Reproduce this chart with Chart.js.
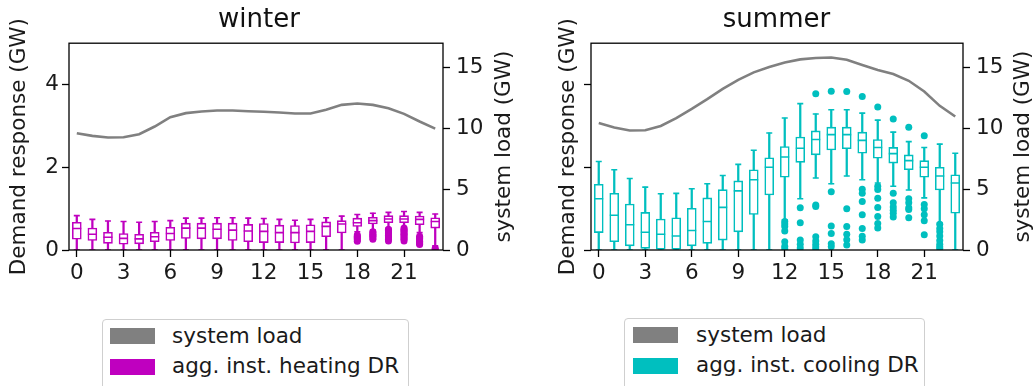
<!DOCTYPE html>
<html><head><meta charset="utf-8">
<script src="https://cdn.jsdelivr.net/npm/chart.js@4"></script>
<style>
html,body{margin:0;padding:0;background:#fff;width:1035px;height:386px;overflow:hidden;font-family:"DejaVu Sans";}
.wrap{position:absolute;top:0;height:300px;}
.legend{position:absolute;border:1px solid #cfcfcf;border-radius:4px;height:80px;box-sizing:border-box;background:#fff;}
.patch{position:absolute;width:45px;height:16px;}
.lab{position:absolute;white-space:nowrap;font-size:21.5px;line-height:1;color:#1a1a1a;font-family:"DejaVu Sans";}
</style>
</head><body>
<div class="wrap" style="left:0;width:518px"><canvas id="cw" width="518" height="300"></canvas></div>
<div class="wrap" style="left:518px;width:517px"><canvas id="cs" width="517" height="300"></canvas></div>
<div class="legend" id="lw" style="left:102px;top:319px;width:307px"></div>
<div class="legend" id="ls" style="left:624px;top:318px;width:301px"></div>
<script>
// ---------- data ----------
const hours = ['0','1','2','3','4','5','6','7','8','9','10','11','12','13','14','15','16','17','18','19','20','21','22','23'];
const xTickLabels = ['0','3','6','9','12','15','18','21'];
const drTicks = [0, 2, 4];
const loadTicks = [0, 5, 10, 15];

// winter
const winterLoad = [9.6,9.38,9.25,9.27,9.52,10.15,10.92,11.25,11.38,11.47,11.47,11.41,11.36,11.3,11.22,11.22,11.52,11.93,12.04,11.93,11.66,11.19,10.56,9.98];
const winterLo  = [0,0,0,0,0,0,0,0,0,0,0,0,0,0,0,0,0,0,0.44,0.48,0.53,0.55,0.42,0.10];
const winterQ1  = [0.26,0.23,0.16,0.14,0.15,0.20,0.23,0.28,0.27,0.27,0.23,0.20,0.18,0.18,0.17,0.18,0.32,0.41,0.57,0.63,0.66,0.66,0.61,0.53];
const winterMed = [0.52,0.38,0.31,0.28,0.27,0.32,0.40,0.53,0.53,0.50,0.48,0.46,0.45,0.42,0.42,0.45,0.57,0.63,0.66,0.71,0.75,0.75,0.74,0.69];
const winterQ3  = [0.67,0.53,0.43,0.40,0.38,0.43,0.55,0.65,0.65,0.65,0.65,0.62,0.64,0.60,0.59,0.61,0.68,0.71,0.77,0.79,0.83,0.83,0.82,0.78];
const winterHi  = [0.83,0.74,0.70,0.69,0.67,0.69,0.71,0.77,0.77,0.78,0.78,0.77,0.76,0.74,0.72,0.74,0.78,0.82,0.86,0.89,0.91,0.93,0.91,0.87];
const winterOutliers = {
  '18': [0.36,0.33,0.31,0.28,0.25,0.21],
  '19': [0.44,0.42,0.38,0.35,0.33,0.29,0.26],
  '20': [0.50,0.48,0.44,0.41,0.39,0.35,0.32,0.29,0.26,0.22],
  '21': [0.53,0.50,0.47,0.45,0.41,0.38,0.36,0.32,0.29,0.26,0.22],
  '22': [0.33,0.30,0.28,0.24,0.21,0.18,0.15,0.13],
  '23': [0.04,0.01]
};

// summer
const summerLoad = [10.43,10.07,9.82,9.85,10.2,10.84,11.6,12.4,13.25,13.99,14.6,15.04,15.42,15.67,15.78,15.83,15.64,15.2,14.79,14.46,13.91,13.03,11.85,10.97];
const summerLo  = [0,0,0,0,0,0,0,0,0,0,0,0,0.73,1.24,1.74,1.60,1.79,1.70,1.62,1.54,1.45,1.26,0.65,0];
const summerQ1  = [0.42,0.20,0.10,0.04,0.02,0.02,0.10,0.16,0.24,0.44,0.86,1.33,1.76,2.12,2.30,2.42,2.45,2.34,2.22,2.10,1.94,1.76,1.45,0.89];
const summerMed = [1.24,0.84,0.61,0.43,0.38,0.34,0.47,0.69,1.03,1.43,1.70,2.00,2.25,2.46,2.67,2.79,2.79,2.65,2.48,2.33,2.16,2.00,1.79,1.62];
const summerQ3  = [1.59,1.37,1.11,0.91,0.75,0.78,1.01,1.26,1.46,1.67,1.94,2.23,2.50,2.73,2.88,2.97,2.97,2.85,2.67,2.48,2.30,2.16,2.00,1.82];
const summerHi  = [2.14,1.94,1.73,1.52,1.36,1.37,1.48,1.60,1.80,2.07,2.41,2.83,3.19,3.54,3.29,3.39,3.39,3.31,3.14,2.85,2.62,2.48,2.56,2.34];
const summerOutliers = {
  '12': [0.69,0.63,0.57,0.46,0.20,0.09,0.03],
  '13': [1.02,0.66,0.24,0.14,0.05],
  '14': [3.78,1.09,1.05,0.32,0.22,0.14,0.07,0.02],
  '15': [3.84,1.41,0.58,0.40,0.15,0.08],
  '16': [3.83,1.00,0.57,0.38,0.25,0.12],
  '17': [3.71,1.47,1.37,1.17,0.85,0.52,0.33,0.24],
  '18': [3.46,1.54,1.46,1.25,1.03,0.81,0.64,0.53],
  '19': [3.17,1.37,1.14,1.04,0.96,0.89,0.80],
  '20': [2.97,1.24,1.14,1.02,0.98,0.78],
  '21': [2.76,1.10,1.00,0.85,0.71,0.37],
  '22': [0.62,0.52,0.44,0.34,0.23,0.14,0.08,0.04]
};

const loadColor = '#808080';
const winterColor = '#bf00bf';
const summerColor = '#00bfbf';
const FS = 21.5;

Chart.defaults.font.family = '"DejaVu Sans"';
Chart.defaults.color = '#1a1a1a';

const framePlugin = {
  id: 'frame',
  afterDraw(chart, args, o) {
    const {ctx, chartArea: a} = chart;
    ctx.save();
    ctx.strokeStyle = '#000';
    ctx.lineWidth = 1.3;
    ctx.strokeRect(a.left, a.top, a.right - a.left, a.bottom - a.top);
    ctx.translate(o.rightTitleX, (a.top + a.bottom) / 2);
    ctx.rotate(-Math.PI / 2);
    ctx.font = FS + 'px "DejaVu Sans"';
    ctx.fillStyle = '#1a1a1a';
    ctx.textAlign = 'center';
    ctx.textBaseline = 'middle';
    ctx.fillText(o.rightTitle, 0, 0);
    ctx.restore();
  }
};

function makeChart(id, o) {
  const boxes = o.q1.map((q, i) => [q, o.q3[i]]);
  const whisk = o.lo.map((l, i) => [l, o.hi[i]]);
  const outPts = [];
  Object.keys(o.outliers).forEach(h => o.outliers[h].forEach(v => outPts.push({x: h, y: v})));
  const tickGrid = {
    display: true, drawOnChartArea: false, drawTicks: true, tickLength: 7, tickWidth: 1.3, tickColor: '#000'
  };
  return new Chart(document.getElementById(id), {
    type: 'bar',
    data: {
      labels: hours,
      datasets: [
        {type: 'line', label: 'system load', data: o.load, yAxisID: 'y1', borderColor: loadColor, backgroundColor: loadColor,
         borderWidth: 2.6, pointRadius: 0, tension: 0, order: 0, legendColor: loadColor},
        {type: 'line', data: o.med, yAxisID: 'y', showLine: false, pointStyle: 'line', pointRadius: 4.5,
         pointBorderColor: o.color, pointBorderWidth: 1.6, order: 1},
        {type: 'line', data: o.hi, yAxisID: 'y', showLine: false, pointStyle: 'line', pointRadius: 3,
         pointBorderColor: o.color, pointBorderWidth: 1.6, order: 2},
        {type: 'line', data: o.lo, yAxisID: 'y', showLine: false, pointStyle: 'line', pointRadius: 3,
         pointBorderColor: o.color, pointBorderWidth: 1.6, order: 2},
        {type: 'bar', label: o.label, data: boxes, yAxisID: 'y', backgroundColor: '#ffffff', borderColor: o.color,
         borderWidth: 1.6, borderSkipped: false, barThickness: 9, grouped: false, order: 3, legendColor: o.color},
        {type: 'bar', data: whisk, yAxisID: 'y', backgroundColor: o.color, borderWidth: 0,
         barThickness: 1.6, grouped: false, order: 4},
        {type: 'line', data: outPts, yAxisID: 'y', showLine: false, pointStyle: 'circle', pointRadius: 3.5,
         pointBackgroundColor: o.color, pointBorderWidth: 0, order: 5}
      ]
    },
    options: {
      responsive: false, animation: false, devicePixelRatio: 1,
      events: [],
      layout: {padding: 0},
      plugins: {
        legend: {display: false},
        tooltip: {enabled: false},
        title: {display: true, text: o.title, font: {size: 26, weight: 'normal'}, color: '#111', padding: {top: 5, bottom: 7}},
        frame: {rightTitle: 'system load (GW)', rightTitleX: o.rightTitleX}
      },
      scales: {
        x: {
          type: 'category', offset: true,
          grid: Object.assign({}, tickGrid, {offset: false, tickColor: c => (xTickLabels.includes(hours[c.index]) ? '#000' : 'rgba(0,0,0,0)')}),
          border: {display: false},
          ticks: {autoSkip: false, maxRotation: 0, minRotation: 0, padding: 4, font: {size: FS}, color: '#1a1a1a',
                  callback: (v, i) => (xTickLabels.includes(hours[i]) ? hours[i] : '')},
          afterFit: s => { s.height = 50; }
        },
        y: {
          position: 'left', min: 0, max: 5,
          grid: tickGrid, border: {display: false},
          afterBuildTicks: s => { s.ticks = drTicks.map(v => ({value: v})); },
          ticks: {display: o.showLeftTicks, padding: 3, font: {size: FS}, color: '#1a1a1a'},
          title: {display: true, text: 'Demand response (GW)', font: {size: FS}, color: '#1a1a1a', padding: {top: o.leftTitlePad, bottom: 0}},
          afterFit: s => { s.width = o.leftW; }
        },
        y1: {
          position: 'right', min: 0, max: 17,
          grid: tickGrid, border: {display: false},
          afterBuildTicks: s => { s.ticks = loadTicks.map(v => ({value: v})); },
          ticks: {padding: 6, font: {size: FS}, color: '#1a1a1a'},
          afterFit: s => { s.width = o.rightW; }
        }
      }
    },
    plugins: [framePlugin]
  });
}

function htmlLegend(chart, elId, patchLeft, textLeft) {
  const el = document.getElementById(elId);
  const items = chart.data.datasets.filter(d => d.label);
  items.forEach((d, i) => {
    const p = document.createElement('div');
    p.className = 'patch';
    p.style.left = patchLeft + 'px';
    p.style.top = (8 + i * 31) + 'px';
    p.style.background = d.legendColor;
    el.appendChild(p);
    const t = document.createElement('div');
    t.className = 'lab';
    t.style.left = textLeft + 'px';
    t.style.top = (5 + i * 30) + 'px';
    t.textContent = d.label;
    el.appendChild(t);
  });
}

const cw = makeChart('cw', {
  title: 'winter', label: 'agg. inst. heating DR', color: winterColor, load: winterLoad,
  lo: winterLo, q1: winterQ1, med: winterMed, q3: winterQ3, hi: winterHi, outliers: winterOutliers,
  leftW: 69, rightW: 75, showLeftTicks: true, leftTitlePad: 6.5, rightTitleX: 504
});
const cs = makeChart('cs', {
  title: 'summer', label: 'agg. inst. cooling DR', color: summerColor, load: summerLoad,
  lo: summerLo, q1: summerQ1, med: summerMed, q3: summerQ3, hi: summerHi, outliers: summerOutliers,
  leftW: 73, rightW: 72, showLeftTicks: false, leftTitlePad: 38, rightTitleX: 505
});
htmlLegend(cw, 'lw', 7, 69);
htmlLegend(cs, 'ls', 8, 71);
</script>
</body></html>
